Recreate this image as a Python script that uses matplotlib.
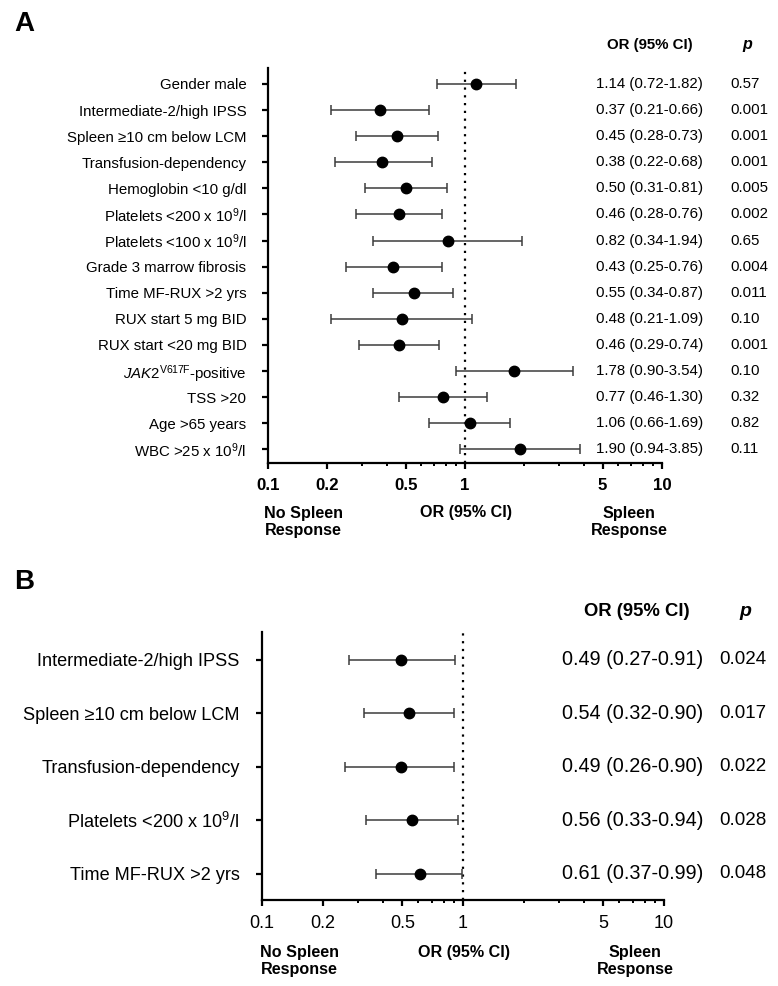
import numpy as np
import matplotlib.pyplot as plt
import matplotlib.transforms as mtransforms
from matplotlib.ticker import FixedLocator, FixedFormatter, NullFormatter

plt.rcParams['font.family'] = ['Liberation Sans', 'DejaVu Sans']
plt.rcParams['mathtext.fontset'] = 'custom'
plt.rcParams['mathtext.rm'] = 'Liberation Sans'
plt.rcParams['mathtext.it'] = 'Liberation Sans:italic'
plt.rcParams['mathtext.bf'] = 'Liberation Sans:bold'

# Panel A: univariate
labels_a = ["Gender male",
            "Intermediate-2/high IPSS",
            "Spleen \u226510 cm below LCM",
            "Transfusion-dependency",
            "Hemoglobin <10 g/dl",
            r"Platelets <200 x 10$^{9}$/l",
            r"Platelets <100 x 10$^{9}$/l",
            "Grade 3 marrow fibrosis",
            "Time MF-RUX >2 yrs",
            "RUX start 5 mg BID",
            "RUX start <20 mg BID",
            r"$\mathit{JAK2}^{\mathrm{V617F}}$-positive",
            "TSS >20",
            "Age >65 years",
            r"WBC >25 x 10$^{9}$/l"]
or_a = [1.14, 0.37, 0.45, 0.38, 0.50, 0.46, 0.82, 0.43, 0.55, 0.48, 0.46, 1.78, 0.77, 1.06, 1.90]
lo_a = [0.72, 0.21, 0.28, 0.22, 0.31, 0.28, 0.34, 0.25, 0.34, 0.21, 0.29, 0.90, 0.46, 0.66, 0.94]
hi_a = [1.82, 0.66, 0.73, 0.68, 0.81, 0.76, 1.94, 0.76, 0.87, 1.09, 0.74, 3.54, 1.30, 1.69, 3.85]
p_a = ["0.57", "0.001", "0.001", "0.001", "0.005", "0.002", "0.65", "0.004",
       "0.011", "0.10", "0.001", "0.10", "0.32", "0.82", "0.11"]

# Panel B: multivariate
labels_b = ["Intermediate-2/high IPSS",
            "Spleen \u226510 cm below LCM",
            "Transfusion-dependency",
            r"Platelets <200 x 10$^{9}$/l",
            "Time MF-RUX >2 yrs"]
or_b = [0.49, 0.54, 0.49, 0.56, 0.61]
lo_b = [0.27, 0.32, 0.26, 0.33, 0.37]
hi_b = [0.91, 0.90, 0.90, 0.94, 0.99]
p_b = ["0.024", "0.017", "0.022", "0.028", "0.048"]

tick_vals = [0.1, 0.2, 0.5, 1, 5, 10]
tick_labels = ["0.1", "0.2", "0.5", "1", "5", "10"]
minor_vals = [0.3, 0.4, 0.6, 0.7, 0.8, 0.9, 2, 3, 4, 6, 7, 8, 9]

W, H = 778, 986
fig = plt.figure(figsize=(W / 100, H / 100), dpi=100)


def box(l, t, r, b):
    return [l / W, 1 - b / H, (r - l) / W, (b - t) / H]


def fx(x):
    return x / W


def fy(y):
    return 1 - y / H


def panel(ax, labels, ors, los, his, ps, ylims, lab_fs, lab_pad, col_x, col_fs,
          tick_bold, tick_fs):
    ors, los, his = np.array(ors), np.array(los), np.array(his)
    y = np.arange(len(labels))
    ax.set_xscale('log')
    ax.set_xlim(0.1, 10)
    ax.set_ylim(*ylims)
    ax.axvline(1, color='black', ls=(0, (1, 2.5)), lw=1.6, zorder=1)
    ax.errorbar(ors, y, xerr=[ors - los, his - ors], fmt='o', color='black',
                ecolor='#3c3c3c', elinewidth=1.1, capsize=3.5, capthick=1.1,
                markersize=7.5, zorder=3)
    for s in ['top', 'right']:
        ax.spines[s].set_visible(False)
    for s in ['left', 'bottom']:
        ax.spines[s].set_linewidth(1.6)
    ax.set_yticks(y)
    ax.set_yticklabels(labels, fontsize=lab_fs)
    ax.tick_params(axis='y', length=4, width=1.6, pad=lab_pad)
    ax.xaxis.set_major_locator(FixedLocator(tick_vals))
    ax.xaxis.set_major_formatter(FixedFormatter(tick_labels))
    ax.xaxis.set_minor_locator(FixedLocator(minor_vals))
    ax.xaxis.set_minor_formatter(NullFormatter())
    ax.tick_params(axis='x', which='major', length=4, width=1.6, pad=7,
                   labelsize=tick_fs)
    ax.tick_params(axis='x', which='minor', length=2.5, width=1.4)
    if tick_bold:
        for t in ax.get_xticklabels():
            t.set_fontweight('bold')

    # OR and p columns
    trans = mtransforms.blended_transform_factory(fig.transFigure, ax.transData)
    for i in range(len(labels)):
        ax.text(fx(col_x[0]), y[i], f"{ors[i]:.2f} ({los[i]:.2f}-{his[i]:.2f})",
                transform=trans, ha='left', va='center', fontsize=col_fs[0])
        ax.text(fx(col_x[1]), y[i], ps[i], transform=trans, ha='left',
                va='center', fontsize=col_fs[1])


ax_a = fig.add_axes(box(268, 68, 662, 463))
panel(ax_a, labels_a, or_a, lo_a, hi_a, p_a, (14.52, -0.61), 10.8, 11.5,
      (596, 730), (10.8, 10.8), True, 12.2)

ax_b = fig.add_axes(box(262, 632, 664, 900))
panel(ax_b, labels_b, or_b, lo_b, hi_b, p_b, (4.49, -0.52), 13.1, 12,
      (562, 719), (14.3, 13.5), False, 13)

# headers
fig.text(fx(650), fy(45), "OR (95% CI)", ha='center', va='center',
         fontsize=10.8, fontweight='bold')
fig.text(fx(747), fy(45), "p", ha='center', va='center', fontsize=11.5,
         fontweight='bold', style='italic')
fig.text(fx(637), fy(611), "OR (95% CI)", ha='center', va='center',
         fontsize=13.3, fontweight='bold')
fig.text(fx(745), fy(611), "p", ha='center', va='center', fontsize=14,
         fontweight='bold', style='italic')

# bottom annotations
for yy, cx in [(522, (303, 466, 629)), (961, (299, 464, 635))]:
    fig.text(fx(cx[0]), fy(yy), "No Spleen\nResponse", ha='center', va='center',
             fontsize=11.6, fontweight='bold', linespacing=1.15)
    fig.text(fx(cx[1]), fy(yy - 9), "OR (95% CI)", ha='center', va='center',
             fontsize=11.6, fontweight='bold')
    fig.text(fx(cx[2]), fy(yy), "Spleen\nResponse", ha='center', va='center',
             fontsize=11.6, fontweight='bold', linespacing=1.15)

# panel letters
fig.text(fx(14), fy(24), "A", ha='left', va='center', fontsize=20, fontweight='bold')
fig.text(fx(14), fy(582), "B", ha='left', va='center', fontsize=20, fontweight='bold')

fig.savefig("out.png", dpi=100)
